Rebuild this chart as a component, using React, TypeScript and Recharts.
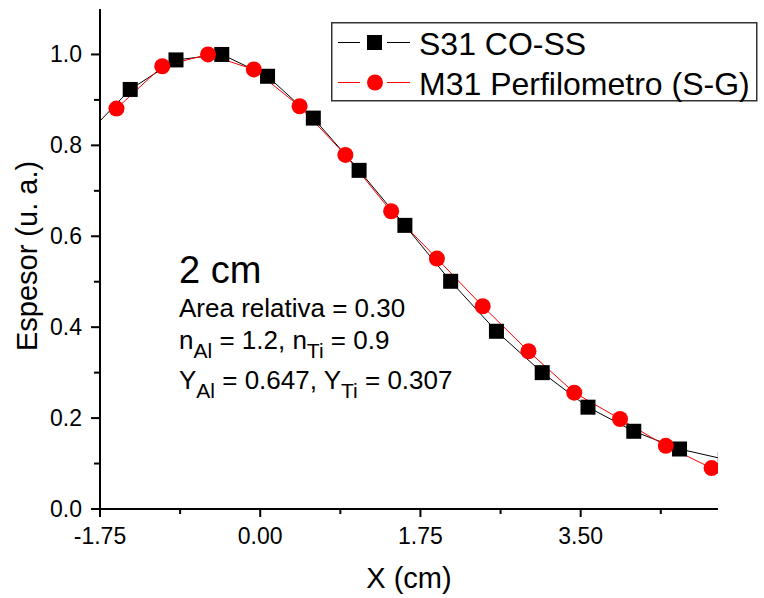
import React from "react";
import { ComposedChart, Line, XAxis, YAxis, Legend, Label } from "recharts";

// S31 CO-SS (black squares)
const s31X = [-1.92, -1.42, -0.92, -0.42, 0.08, 0.58, 1.08, 1.58, 2.08, 2.58, 3.08, 3.58, 4.08, 4.58, 5.08];
const s31Y = [0.818, 0.923, 0.988, 1.0, 0.952, 0.86, 0.745, 0.624, 0.501, 0.391, 0.3, 0.224, 0.171, 0.132, 0.109];

// M31 Perfilometro (S-G) (red circles)
const m31X = [-1.57, -1.07, -0.57, -0.07, 0.43, 0.93, 1.43, 1.93, 2.43, 2.93, 3.43, 3.93, 4.43, 4.93];
const m31Y = [0.881, 0.974, 1.0, 0.967, 0.886, 0.779, 0.655, 0.551, 0.446, 0.347, 0.256, 0.198, 0.139, 0.09];

const seriesNames = ["S31 CO-SS", "M31 Perfilometro (S-G)"];

const xTicks = [-1.75, -0.875, 0, 0.875, 1.75, 2.625, 3.5, 4.375];
const yTicks = [0, 0.1, 0.2, 0.3, 0.4, 0.5, 0.6, 0.7, 0.8, 0.9, 1.0];

const s31Data = s31X.map((x, i) => ({ x, y: s31Y[i] }));
const m31Data = m31X.map((x, i) => ({ x, y: m31Y[i] }));

const FONT = "'Liberation Sans', Arial, sans-serif";
const W = 764;
const H = 598;
const PLOT_LEFT = 100;
const PLOT_TOP = 9;
const PLOT_BOTTOM = 509;

const XTick = ({ x, payload }: any) => {
  const v = payload.value;
  const major = Math.round(v / 0.875) % 2 === 0;
  return (
    <g>
      <line x1={x} x2={x} y1={PLOT_BOTTOM} y2={PLOT_BOTTOM + (major ? 8 : 5)} stroke="#000" strokeWidth={2} />
      {major && (
        <text x={x} y={PLOT_BOTTOM + 35} textAnchor="middle" fontSize={23} fontFamily={FONT} fill="#000">
          {v.toFixed(2)}
        </text>
      )}
    </g>
  );
};

const YTick = ({ y, payload }: any) => {
  const v = payload.value;
  const major = Math.round(v * 10) % 2 === 0;
  return (
    <g>
      <line x1={PLOT_LEFT - (major ? 9 : 6)} x2={PLOT_LEFT} y1={y} y2={y} stroke="#000" strokeWidth={2} />
      {major && (
        <text x={PLOT_LEFT - 18} y={y + 8} textAnchor="end" fontSize={23} fontFamily={FONT} fill="#000">
          {v.toFixed(1)}
        </text>
      )}
    </g>
  );
};

const renderSquare = (p: any) => (
  <rect key={`sq-${p.index}`} x={p.cx - 7.5} y={p.cy - 7.5} width={15} height={15} fill="#000" />
);
const renderCircle = (p: any) => <circle key={`ci-${p.index}`} cx={p.cx} cy={p.cy} r={8} fill="#ff0000" />;

const LegendBox = ({ payload }: any) => {
  const items = [...(payload || [])].sort(
    (a: any, b: any) => seriesNames.indexOf(a.value) - seriesNames.indexOf(b.value)
  );
  return (
    <svg width={428} height={80} style={{ display: "block" }}>
      <rect x={0.75} y={0.75} width={425} height={78} fill="#fff" stroke="#333" strokeWidth={1.5} />
      {items.map((entry: any, i: number) => {
        const cy = 20.5 + i * 40;
        const square = entry.value === seriesNames[0];
        const color = square ? "#000" : "#ff0000";
        return (
          <g key={entry.value}>
            <line x1={7} x2={29} y1={cy} y2={cy} stroke={color} strokeWidth={1} />
            <line x1={56} x2={79} y1={cy} y2={cy} stroke={color} strokeWidth={1} />
            {square ? (
              <rect x={36} y={cy - 7.5} width={15} height={15} fill="#000" />
            ) : (
              <circle cx={44} cy={cy} r={8} fill="#ff0000" />
            )}
            <text x={88} y={cy + 12} fontSize={32} fontFamily={FONT} fill="#000">
              {entry.value}
            </text>
          </g>
        );
      })}
    </svg>
  );
};

const App = () => {
  return (
    <div style={{ position: "absolute", left: 0, top: 0, background: "#fff" }}>
      <ComposedChart width={W} height={H} margin={{ top: PLOT_TOP, right: 46, bottom: 5, left: 0 }}>
        <XAxis
          dataKey="x"
          type="number"
          domain={[-1.75, 5]}
          allowDataOverflow
          ticks={xTicks}
          interval={0}
          tick={<XTick />}
          tickLine={false}
          tickSize={0}
          tickMargin={0}
          axisLine={{ stroke: "#000", strokeWidth: 2 }}
          height={84}
        >
          <Label
            content={() => (
              <text x={409} y={588} textAnchor="middle" fontSize={29} fontFamily={FONT} fill="#000">
                X (cm)
              </text>
            )}
          />
        </XAxis>
        <YAxis
          type="number"
          domain={[0, 1.1]}
          allowDataOverflow
          ticks={yTicks}
          interval={0}
          tick={<YTick />}
          tickLine={false}
          tickSize={0}
          tickMargin={0}
          axisLine={{ stroke: "#000", strokeWidth: 2 }}
          width={100}
        >
          <Label
            content={() => (
              <text
                x={37}
                y={256}
                transform="rotate(-90 37 256)"
                textAnchor="middle"
                fontSize={29}
                fontFamily={FONT}
                fill="#000"
              >
                Espesor (u. a.)
              </text>
            )}
          />
        </YAxis>
        <Legend
          layout="horizontal"
          verticalAlign="middle"
          content={<LegendBox />}
          wrapperStyle={{ left: 331, top: 22, width: 428, height: 80 }}
        />
        <Line
          data={s31Data}
          dataKey="y"
          name="S31 CO-SS"
          type="linear"
          stroke="#000"
          strokeWidth={1}
          dot={renderSquare}
          activeDot={false}
          isAnimationActive={false}
        />
        <Line
          data={m31Data}
          dataKey="y"
          name="M31 Perfilometro (S-G)"
          type="linear"
          stroke="#ff0000"
          strokeWidth={1}
          dot={renderCircle}
          activeDot={false}
          isAnimationActive={false}
        />
        <g fontFamily={FONT} fill="#000">
          <text x={179} y={283} fontSize={38}>
            2 cm
          </text>
          <text x={179} y={317} fontSize={26}>
            Area relativa = 0.30
          </text>
          <text x={179} y={349} fontSize={26}>
            n<tspan fontSize={21} dy={9}>Al</tspan>
            <tspan dy={-9}> = 1.2, n</tspan>
            <tspan fontSize={21} dy={9}>Ti</tspan>
            <tspan dy={-9}> = 0.9</tspan>
          </text>
          <text x={179} y={389} fontSize={26}>
            Y<tspan fontSize={21} dy={9}>Al</tspan>
            <tspan dy={-9}> = 0.647, Y</tspan>
            <tspan fontSize={21} dy={9}>Ti</tspan>
            <tspan dy={-9}> = 0.307</tspan>
          </text>
        </g>
      </ComposedChart>
    </div>
  );
};

export default App;
